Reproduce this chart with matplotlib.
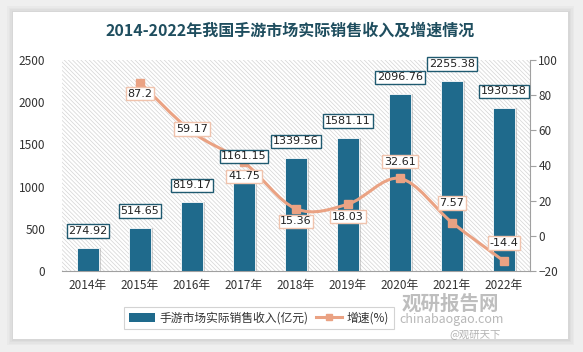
import matplotlib
matplotlib.use('Agg')
import matplotlib.pyplot as plt
import numpy as np
from matplotlib.patches import Rectangle, PathPatch, Patch
from matplotlib.path import Path
from matplotlib.lines import Line2D

plt.rcParams['font.family'] = ['Noto Sans CJK SC', 'DejaVu Sans']
plt.rcParams['hatch.color'] = '#d4d4d4'
plt.rcParams['hatch.linewidth'] = 0.5

years = ['2014年', '2015年', '2016年', '2017年', '2018年', '2019年', '2020年', '2021年', '2022年']
revenue = [274.92, 514.65, 819.17, 1161.15, 1339.56, 1581.11, 2096.76, 2255.38, 1930.58]
growth_years = ['2015年', '2016年', '2017年', '2018年', '2019年', '2020年', '2021年', '2022年']
growth = [87.2, 59.17, 41.75, 15.36, 18.03, 32.61, 7.57, -14.4]
# label offsets (points) for growth labels: negative = below
growth_label_dy = [-8, 2, -10, -9, -9, 12, 14, 13]

BAR = '#1f6a8c'
LINE = '#eaa283'
TITLE = '#1f4e5f'
NUMFONT = ['DejaVu Sans']

fig = plt.figure(figsize=(5.83, 3.52), dpi=100)
fig.patch.set_facecolor('#efefef')

# card with soft shadow
for i, a in enumerate([0.05, 0.05, 0.06, 0.07]):
    d = (4 - i) * 1.5
    fig.patches.append(Rectangle(((13 - d) / 583, 1 - (339 + d) / 352), (555 + 2 * d) / 583, (327 + 2 * d) / 352,
                                 transform=fig.transFigure, facecolor='#888888', alpha=a, edgecolor='none', zorder=0))
fig.patches.append(Rectangle((13 / 583, 1 - 339 / 352), 555 / 583, 327 / 352,
                             transform=fig.transFigure, facecolor='white', edgecolor='none', zorder=0))

ax = fig.add_axes([62 / 583, 1 - 271 / 352, 468 / 583, 211 / 352])
ax.set_zorder(2)
ax.patch.set_facecolor('white')
ax.patch.set_hatch('\\\\\\\\\\\\\\\\')
ax.patch.set_edgecolor('#d4d4d4')
ax.patch.set_linewidth(0)

x = np.arange(len(years))
bw = 0.42
# shadow bars
ax.bar(x + 0.04, revenue, width=bw, color='#9a9a9a', alpha=0.45, zorder=2)
ax.bar(x, revenue, width=bw, color=BAR, zorder=3, edgecolor='white', linewidth=0.6)
ax.set_xlim(-0.5, len(years) - 0.5)
ax.set_ylim(0, 2500)
ax.set_yticks(range(0, 2501, 500))
ax.set_xticks(x)
ax.set_xticklabels(years)
for s in ['top', 'right', 'left']:
    ax.spines[s].set_visible(False)
ax.spines['bottom'].set_color('#a0a0a0')
ax.tick_params(axis='x', length=0, labelsize=8.5, colors='#333333', pad=6)
ax.tick_params(axis='y', length=0, labelsize=8.5, colors='#333333', pad=12)

ax2 = ax.twinx()
ax2.set_zorder(3)
ax2.set_ylim(-20, 100)
ax2.set_yticks(range(-20, 101, 20))
for s in ['top', 'left', 'bottom']:
    ax2.spines[s].set_visible(False)
ax2.spines['right'].set_color('#a0a0a0')
ax2.tick_params(axis='y', length=4, color='#a0a0a0', labelsize=8.5, labelcolor='#333333', pad=2)

# bar value labels (drawn on the top axes so they sit above the line)
for xi, v in zip(x, revenue):
    ax2.annotate(f'{v:.2f}', (xi, v), xycoords=ax.transData, xytext=(0, 12), textcoords='offset points',
                 ha='center', va='center', fontsize=8, color='#222222', zorder=6, family=NUMFONT,
                 bbox=dict(boxstyle='square,pad=0.15', facecolor='white', edgecolor='#1f5a70', linewidth=1))

gx = np.array([years.index(g) for g in growth_years], dtype=float)
gy = np.array(growth, dtype=float)
# smooth curve (Catmull-Rom -> Bezier) through the data points
verts = [(gx[0], gy[0])]
codes = [Path.MOVETO]
n = len(gx)
for i in range(n - 1):
    p0 = np.array([gx[max(i - 1, 0)], gy[max(i - 1, 0)]])
    p1 = np.array([gx[i], gy[i]])
    p2 = np.array([gx[i + 1], gy[i + 1]])
    p3 = np.array([gx[min(i + 2, n - 1)], gy[min(i + 2, n - 1)]])
    c1 = p1 + (p2 - p0) / 6
    c2 = p2 - (p3 - p1) / 6
    verts += [tuple(c1), tuple(c2), tuple(p2)]
    codes += [Path.CURVE4] * 3
ax2.add_patch(PathPatch(Path(verts, codes), facecolor='none', edgecolor=LINE, linewidth=2.2, zorder=4))
ax2.plot(gx, gy, linestyle='none', marker='s', markersize=6, color=LINE, zorder=5)

for xi, v, dy in zip(gx, gy, growth_label_dy):
    ax2.annotate(f'{v:g}', (xi, v), xytext=(0, dy), textcoords='offset points',
                 ha='center', va='center', fontsize=8, color='#222222', zorder=7, family=NUMFONT,
                 bbox=dict(boxstyle='square,pad=0.15', facecolor='white', edgecolor='#f0c3ad', linewidth=1))

fig.text(290 / 583, 1 - 31 / 352, '2014-2022年我国手游市场实际销售收入及增速情况', ha='center', va='center',
         fontsize=11.5, fontweight='bold', color=TITLE)

handles = [Patch(facecolor=BAR, edgecolor='none'),
           Line2D([0], [0], color=LINE, linewidth=2.2, marker='s', markersize=5)]
leg = fig.legend(handles, ['手游市场实际销售收入(亿元)', '增速(%)'], loc='center',
                 bbox_to_anchor=(259 / 583, 1 - 318 / 352), ncol=2, fontsize=8.5, frameon=True,
                 fancybox=False, edgecolor='#c8c8c8', handlelength=2.2, columnspacing=0.6, handletextpad=0.4,
                 borderpad=0.4)
leg.get_frame().set_linewidth(0.8)
for t in leg.get_texts():
    t.set_color('#333333')

# watermark
fig.text(450 / 583, 1 - 304 / 352, '观研报告网', ha='center', va='center', fontsize=14, fontweight='bold',
         color='#a8a8a8', alpha=0.75, zorder=10)
fig.text(452 / 583, 1 - 320 / 352, 'chinabaogao.com', ha='center', va='center', fontsize=9,
         color='#a0a0a0', alpha=0.75, zorder=10)
fig.text(475 / 583, 1 - 334 / 352, '@观研天下', ha='center', va='center', fontsize=7.5,
         color='#9a9a9a', alpha=0.75, zorder=10)

fig.savefig('out.png', dpi=100, facecolor=fig.get_facecolor())
